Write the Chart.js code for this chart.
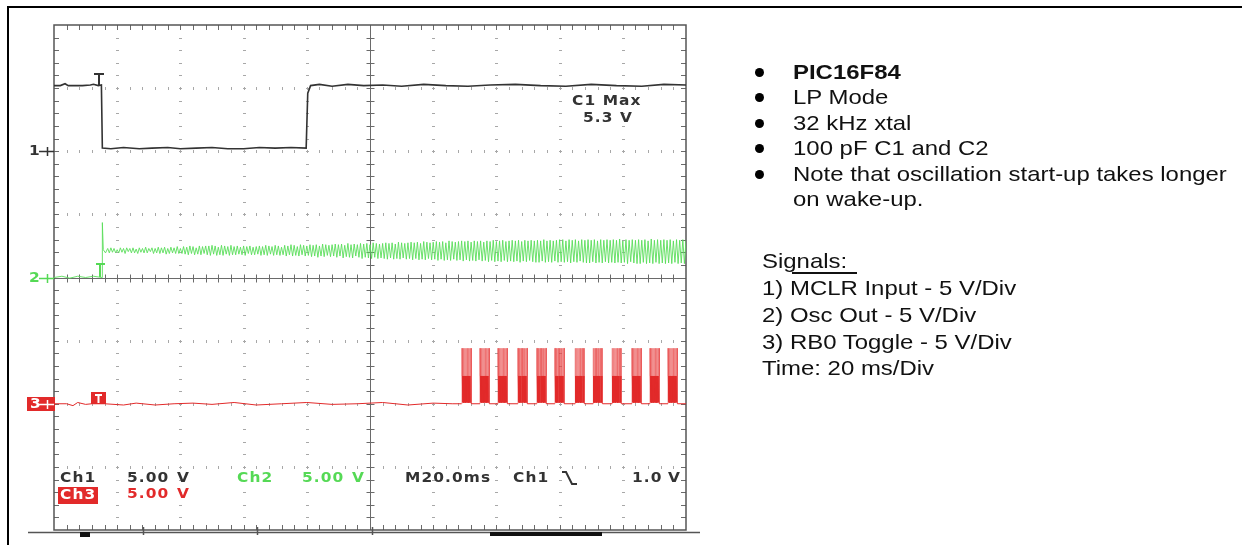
<!DOCTYPE html>
<html>
<head>
<meta charset="utf-8">
<script src="https://cdn.jsdelivr.net/npm/chart.js@4.4.1/dist/chart.umd.min.js"></script>
<style>
  html, body { margin: 0; padding: 0; background: #fff; }
  body { width: 1242px; height: 545px; position: relative; overflow: hidden; }
  #scope { position: absolute; left: 0; top: 0; filter: blur(0.4px); }
  .rule { position: absolute; background: #000; }
  .notes { position: absolute; left: 0; top: 0; font-family: "Liberation Sans", Arial, sans-serif; font-size: 21px; color: #111; }
  .notes div { position: absolute; white-space: nowrap; line-height: 24px; transform: scaleX(1.14); transform-origin: 0 50%; }
  .notes .dot { width: 9px; height: 9px; border-radius: 50%; background: #000; transform: none; }
  .uline { position: absolute; left: 792px; top: 272px; width: 65px; height: 2px; background: #111; }
</style>
</head>
<body>
<canvas id="scope" width="1242" height="545"></canvas>
<div class="rule" style="left:7px;top:6px;width:1235px;height:2px"></div>
<div class="rule" style="left:7px;top:6px;width:2px;height:539px"></div>

<div class="notes">
  <div class="dot" style="left:755px;top:68px"></div>
  <div style="left:793px;top:60px;font-weight:bold">PIC16F84</div>
  <div class="dot" style="left:755px;top:93px"></div>
  <div style="left:793px;top:85px">LP Mode</div>
  <div class="dot" style="left:755px;top:119px"></div>
  <div style="left:793px;top:111px">32 kHz xtal</div>
  <div class="dot" style="left:755px;top:144px"></div>
  <div style="left:793px;top:136px">100 pF C1 and C2</div>
  <div class="dot" style="left:755px;top:170px"></div>
  <div style="left:793px;top:162px">Note that oscillation start-up takes longer</div>
  <div style="left:793px;top:187px">on wake-up.</div>

  <div style="left:762px;top:249px">Signals:</div>
  <div style="left:762px;top:276px">1) MCLR Input - 5 V/Div</div>
  <div style="left:762px;top:303px">2) Osc Out - 5 V/Div</div>
  <div style="left:762px;top:330px">3) RB0 Toggle - 5 V/Div</div>
  <div style="left:762px;top:356px">Time: 20 ms/Div</div>
  <span class="uline"></span>
</div>

<script>
// screen: 10 x 20 ms across, 8 divisions high, 5 V per division on every channel
const voltsPerDiv = 5;
const ch1Ground = 2, ch2Ground = 0, ch3Ground = -2;

// Ch1 - MCLR input
const ch1Times = [0, 2, 3.5, 4.5, 6, 9, 11.5, 12.5, 14, 15.0, 15.3, 18, 22, 27, 31, 36, 40, 45, 50, 55,
                  60, 65, 70, 75, 79.8, 80.3, 81.2, 84, 88, 93, 98, 104, 110, 117, 124, 131, 138, 146, 154, 162,
                  170, 178, 186, 193, 200];
const ch1Volts = [5.2, 5.2, 5.35, 5.2, 5.2, 5.2, 5.25, 5.3, 5.2, 5.25, 0.25, 0.2, 0.3, 0.2, 0.25, 0.3, 0.2, 0.25, 0.3, 0.2,
                  0.2, 0.3, 0.25, 0.3, 0.25, 4.6, 5.2, 5.3, 5.15, 5.3, 5.2, 5.25, 5.15, 5.3, 5.2, 5.15, 5.25, 5.3, 5.2, 5.15,
                  5.3, 5.2, 5.15, 5.3, 5.25];

// Ch2 - OSC2 output: idle, start-up kick, then the sampled oscillation record
const ch2LeadTimes = [0, 2.5, 5, 7.5, 10, 12.5, 15.2, 15.3, 15.6, 16.3];
const ch2LeadVolts = [0, 0.1, -0.05, 0.1, 0, 0.1, 0, 4.35, 2.2, 1.95];
const ch2RecordStart = 17;   // ms
const ch2SampleStep = 0.5;   // ms
const ch2Record = [
  2.3, 1.95, 2.35, 2.0, 2.3, 1.95, 2.2, 1.95, 2.35, 2.0, 2.3, 1.9, 2.35, 2.05, 2.3, 1.95,
  2.35, 1.95, 2.25, 1.9, 2.35, 2.0, 2.3, 1.95, 2.4, 1.95, 2.3, 2.05, 2.35, 1.9, 2.3, 1.95,
  2.4, 1.9, 2.35, 1.95, 2.4, 1.85, 2.3, 1.9, 2.4, 1.95, 2.35, 1.9, 2.45, 1.9, 2.3, 1.9,
  2.45, 1.85, 2.4, 1.8, 2.5, 1.9, 2.45, 1.8, 2.35, 1.85, 2.5, 1.8, 2.45, 1.9, 2.5, 1.8,
  2.5, 1.75, 2.55, 1.85, 2.5, 1.75, 2.4, 1.8, 2.55, 1.75, 2.5, 1.85, 2.45, 1.75, 2.55, 1.8,
  2.45, 1.8, 2.5, 1.85, 2.4, 1.8, 2.5, 1.75, 2.45, 1.9, 2.5, 1.8, 2.4, 1.8, 2.45, 1.85,
  2.5, 1.75, 2.45, 1.8, 2.55, 1.75, 2.5, 1.85, 2.45, 1.75, 2.55, 1.8, 2.5, 1.75, 2.4, 1.8,
  2.55, 1.7, 2.5, 1.8, 2.6, 1.7, 2.55, 1.75, 2.45, 1.7, 2.6, 1.8, 2.55, 1.7, 2.5, 1.75,
  2.6, 1.65, 2.55, 1.7, 2.6, 1.6, 2.5, 1.7, 2.65, 1.65, 2.6, 1.75, 2.55, 1.65, 2.6, 1.7,
  2.65, 1.6, 2.6, 1.7, 2.65, 1.55, 2.55, 1.65, 2.7, 1.6, 2.6, 1.55, 2.65, 1.7, 2.6, 1.6,
  2.7, 1.5, 2.65, 1.6, 2.7, 1.55, 2.6, 1.5, 2.75, 1.6, 2.7, 1.5, 2.65, 1.55, 2.7, 1.5,
  2.75, 1.45, 2.7, 1.55, 2.75, 1.45, 2.65, 1.5, 2.8, 1.45, 2.75, 1.55, 2.7, 1.45, 2.75, 1.5,
  2.8, 1.4, 2.75, 1.5, 2.8, 1.4, 2.7, 1.45, 2.85, 1.4, 2.8, 1.5, 2.75, 1.4, 2.8, 1.45,
  2.85, 1.35, 2.8, 1.45, 2.85, 1.35, 2.75, 1.4, 2.9, 1.35, 2.85, 1.45, 2.8, 1.35, 2.85, 1.4,
  2.9, 1.3, 2.85, 1.4, 2.9, 1.3, 2.8, 1.35, 2.9, 1.3, 2.85, 1.4, 2.9, 1.3, 2.8, 1.35,
  2.9, 1.25, 2.85, 1.35, 2.95, 1.25, 2.85, 1.3, 2.9, 1.25, 2.95, 1.35, 2.85, 1.25, 2.9, 1.3,
  2.95, 1.25, 2.9, 1.3, 2.95, 1.2, 2.85, 1.3, 2.95, 1.25, 2.9, 1.35, 2.95, 1.25, 2.9, 1.2,
  2.95, 1.2, 2.9, 1.3, 3.0, 1.2, 2.9, 1.25, 2.95, 1.2, 2.9, 1.3, 2.95, 1.2, 3.0, 1.25,
  3.0, 1.2, 2.9, 1.25, 3.0, 1.15, 2.95, 1.25, 3.0, 1.2, 2.9, 1.3, 3.0, 1.2, 2.95, 1.15,
  3.0, 1.15, 2.95, 1.25, 3.0, 1.15, 2.9, 1.2, 3.0, 1.15, 2.95, 1.25, 3.0, 1.15, 2.95, 1.2,
  3.0, 1.15, 2.95, 1.2, 3.05, 1.15, 2.9, 1.2, 3.0, 1.1, 2.95, 1.25, 3.0, 1.15, 2.95, 1.1,
  3.0, 1.1, 2.95, 1.2, 3.0, 1.1, 2.9, 1.15, 3.05, 1.1, 2.95, 1.2, 3.0, 1.1, 2.95, 1.15,
  3.0, 1.1, 2.95, 1.15, 3.0, 1.1, 2.9, 1.2, 3.0, 1.1, 2.95, 1.15, 3.0, 1.1, 2.95, 1.15
];

// Ch3 - RB0 toggle: quiet line, then bursts once the oscillator is running
const ch3Times = [0, 4, 6, 7.5, 10, 12, 16, 22, 26, 32, 38, 44, 50, 57, 64, 72, 80, 88, 96, 104, 112, 120, 126, 129];
const ch3Volts = [0, 0, -0.15, 0.1, -0.05, 0, 0, -0.1, 0.05, -0.1, 0, 0.05, -0.05, 0.1, -0.1, 0, 0.1, -0.05, 0, 0.1, -0.1, 0.05, 0, 0];
const burstStarts = [129.1, 134.8, 140.5, 146.8, 152.8, 158.5, 164.9, 170.6, 176.6, 182.9, 188.6, 194.3];
// one burst: edges to 4.4 V, dense toggling between 0.1 and 2.2 V, short excursions to 4.4 V
const burstOffsets = [0, 0.02, 0.1, 0.12,
  0.2, 0.3, 0.4, 0.5, 0.52, 0.54, 0.6, 0.7, 0.8, 0.9, 0.92, 0.94,
  1.0, 1.1, 1.2, 1.3, 1.32, 1.34, 1.4, 1.5, 1.6, 1.7, 1.72, 1.74,
  1.8, 1.9, 2.0, 2.1, 2.12, 2.14, 2.2, 2.3, 2.4, 2.5, 2.52, 2.54,
  2.6, 2.7, 2.8, 2.85, 2.87, 2.97, 2.99];
const burstVolts = [0, 4.4, 4.4, 2.2,
  0.1, 2.2, 0.1, 2.2, 4.4, 2.2, 0.1, 2.2, 0.1, 2.2, 4.4, 2.2,
  0.1, 2.2, 0.1, 2.2, 4.4, 2.2, 0.1, 2.2, 0.1, 2.2, 4.4, 2.2,
  0.1, 2.2, 0.1, 2.2, 4.4, 2.2, 0.1, 2.2, 0.1, 2.2, 4.4, 2.2,
  0.1, 2.2, 0.1, 2.2, 4.4, 4.4, 0];

function toDivs(times, volts, ground) {
  return times.map((t, i) => ({ x: t, y: ground + volts[i] / voltsPerDiv }));
}

const ch1Points = toDivs(ch1Times, ch1Volts, ch1Ground);

const ch2Points = toDivs(ch2LeadTimes, ch2LeadVolts, ch2Ground)
  .concat(ch2Record.map((v, i) => ({ x: ch2RecordStart + i * ch2SampleStep, y: ch2Ground + v / voltsPerDiv })));

let ch3Points = toDivs(ch3Times, ch3Volts, ch3Ground);
burstStarts.forEach(s => {
  burstOffsets.forEach((o, i) => ch3Points.push({ x: s + o, y: ch3Ground + burstVolts[i] / voltsPerDiv }));
});
ch3Points.push({ x: 200, y: ch3Ground });

const GRID = '#6a6a6a';

const graticule = {
  id: 'graticule',
  beforeDatasetsDraw(chart) {
    const { ctx, chartArea: a, scales: { x, y } } = chart;
    ctx.save();
    // dotted division lines
    ctx.fillStyle = '#a8a8a8';
    for (let d = 1; d < 10; d++) {
      if (d === 5) continue;
      const px = Math.round(x.getPixelForValue(d * 20));
      for (let m = 1; m < 40; m++) {
        const py = Math.round(y.getPixelForValue(-4 + m * 0.2));
        ctx.fillRect(px - 1, py, 3, 1);
      }
    }
    for (let d = -3; d <= 3; d++) {
      if (d === 0) continue;
      const py = Math.round(y.getPixelForValue(d));
      for (let m = 1; m < 50; m++) {
        const px = Math.round(x.getPixelForValue(m * 4));
        ctx.fillRect(px, py - 1, 1, 3);
      }
    }
    // centre cross with minor ticks
    ctx.strokeStyle = GRID;
    ctx.lineWidth = 1;
    const cx = Math.round(x.getPixelForValue(100)) + 0.5;
    const cy = Math.round(y.getPixelForValue(0)) + 0.5;
    ctx.beginPath();
    ctx.moveTo(cx, a.top); ctx.lineTo(cx, a.bottom);
    ctx.moveTo(a.left, cy); ctx.lineTo(a.right, cy);
    for (let m = 1; m < 50; m++) {
      const px = Math.round(x.getPixelForValue(m * 4)) + 0.5;
      ctx.moveTo(px, cy - 4); ctx.lineTo(px, cy + 4);
      ctx.moveTo(px, a.top); ctx.lineTo(px, a.top + 5);
      ctx.moveTo(px, a.bottom); ctx.lineTo(px, a.bottom - 5);
    }
    for (let m = 1; m < 40; m++) {
      const py = Math.round(y.getPixelForValue(-4 + m * 0.2)) + 0.5;
      ctx.moveTo(cx - 4, py); ctx.lineTo(cx + 4, py);
      ctx.moveTo(a.left, py); ctx.lineTo(a.left + 5, py);
      ctx.moveTo(a.right, py); ctx.lineTo(a.right - 5, py);
    }
    ctx.stroke();
    // outline
    ctx.lineWidth = 1.5;
    ctx.strokeStyle = '#555';
    ctx.strokeRect(a.left, a.top, a.right - a.left, a.bottom - a.top);
    // bezel edge with the record position bar
    ctx.beginPath();
    ctx.moveTo(28, 532.5); ctx.lineTo(700, 532.5);
    ctx.moveTo(143.5, 527); ctx.lineTo(143.5, 535);
    ctx.moveTo(257.5, 527); ctx.lineTo(257.5, 535);
    ctx.moveTo(372.5, 527); ctx.lineTo(372.5, 535);
    ctx.stroke();
    ctx.fillStyle = '#111';
    ctx.fillRect(80, 532, 10, 5);
    ctx.fillRect(490, 532, 112, 4);
    ctx.restore();
  }
};

function scopeText(ctx, str, x, yc, color) {
  ctx.save();
  ctx.font = 'bold 14px "DejaVu Sans"';
  ctx.letterSpacing = '1px';
  ctx.fillStyle = color;
  ctx.textBaseline = 'middle';
  ctx.translate(x, yc);
  ctx.scale(1.1, 1);
  ctx.fillText(str, 0, 0);
  ctx.restore();
}

const BLACK = '#333', GREEN = '#55d955', RED = '#e22a2a';

const readouts = {
  id: 'readouts',
  afterDatasetsDraw(chart) {
    const { ctx, scales: { y } } = chart;
    const g1 = Math.round(y.getPixelForValue(ch1Ground));
    const g2 = Math.round(y.getPixelForValue(ch2Ground));
    const g3 = Math.round(y.getPixelForValue(ch3Ground));
    ctx.save();

    // ground reference markers
    const marker = (yc, color) => {
      ctx.strokeStyle = color; ctx.lineWidth = 1.5;
      ctx.beginPath();
      ctx.moveTo(39, yc + 0.5); ctx.lineTo(54, yc + 0.5);
      ctx.moveTo(47.5, yc - 4); ctx.lineTo(47.5, yc + 5);
      ctx.stroke();
    };
    scopeText(ctx, '1', 29, g1, BLACK); marker(g1, BLACK);
    scopeText(ctx, '2', 29, g2, GREEN); marker(g2, GREEN);
    ctx.fillStyle = RED; ctx.fillRect(27, g3 - 7, 28, 14);
    scopeText(ctx, '3', 30, g3, '#fff'); marker(g3, '#fff');

    // trigger point markers
    ctx.fillStyle = BLACK;
    ctx.fillRect(94, 73, 10, 2); ctx.fillRect(98, 73, 2, 13);
    ctx.fillStyle = GREEN;
    ctx.fillRect(96, 263, 9, 2); ctx.fillRect(99, 263, 2, 14);
    ctx.fillStyle = RED; ctx.fillRect(91, g3 - 12, 15, 12);
    ctx.fillStyle = '#fff'; ctx.fillRect(95, g3 - 10, 7, 2); ctx.fillRect(97.5, g3 - 10, 2, 9);

    // measurement
    scopeText(ctx, 'C1 Max', 572, 101, BLACK);
    scopeText(ctx, '5.3 V', 583, 118, BLACK);

    // channel and timebase settings
    scopeText(ctx, 'Ch1', 60, 478, BLACK);
    scopeText(ctx, '5.00', 127, 478, BLACK); scopeText(ctx, 'V', 177, 478, BLACK);
    scopeText(ctx, 'Ch2', 237, 478, GREEN);
    scopeText(ctx, '5.00', 302, 478, GREEN); scopeText(ctx, 'V', 352, 478, GREEN);
    scopeText(ctx, 'M20.0ms', 405, 478, BLACK);
    scopeText(ctx, 'Ch1', 513, 478, BLACK);
    ctx.strokeStyle = BLACK; ctx.lineWidth = 2;
    ctx.beginPath(); ctx.moveTo(562, 472); ctx.lineTo(566, 472); ctx.lineTo(572, 484); ctx.lineTo(577, 484); ctx.stroke();
    scopeText(ctx, '1.0', 632, 478, BLACK); scopeText(ctx, 'V', 668, 478, BLACK);

    ctx.fillStyle = RED; ctx.fillRect(58, 487, 40, 17);
    scopeText(ctx, 'Ch3', 60, 495, '#fff');
    scopeText(ctx, '5.00', 127, 494, RED); scopeText(ctx, 'V', 177, 494, RED);
    ctx.restore();
  }
};

// toggle excursions above about 3 V are drawn faint, as the scope shows them
const hiLevel = ch3Ground + 3 / voltsPerDiv;
const ch3Segment = c => (c.p0.parsed.y > hiLevel || c.p1.parsed.y > hiLevel) ? 'rgba(232, 60, 60, 0.5)' : undefined;

new Chart(document.getElementById('scope'), {
  type: 'line',
  data: {
    datasets: [
      { label: 'Ch1', data: ch1Points, borderColor: '#333', borderWidth: 1.6 },
      { label: 'Ch2', data: ch2Points, borderColor: '#5ade5a', borderWidth: 0.9 },
      { label: 'Ch3', data: ch3Points, borderColor: '#e22a2a', borderWidth: 1,
        segment: { borderColor: ch3Segment } }
    ]
  },
  options: {
    responsive: false,
    devicePixelRatio: 1,
    animation: false,
    events: [],
    layout: { padding: { left: 54, top: 25, right: 556, bottom: 15 } },
    elements: { point: { radius: 0 }, line: { tension: 0 } },
    plugins: { legend: { display: false }, tooltip: { enabled: false } },
    scales: {
      x: { type: 'linear', min: 0, max: 200, display: false },
      y: { type: 'linear', min: -4, max: 4, display: false }
    }
  },
  plugins: [graticule, readouts]
});
</script>
</body>
</html>
